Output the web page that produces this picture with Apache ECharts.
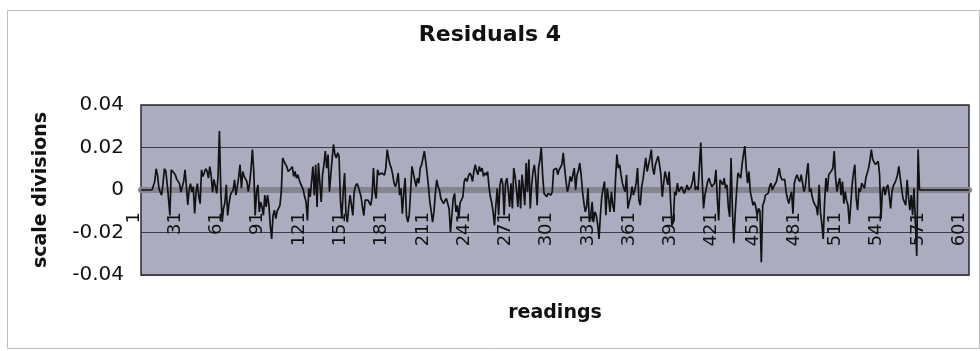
<!DOCTYPE html>
<html>
<head>
<meta charset="utf-8">
<script src="https://cdn.jsdelivr.net/npm/echarts@6/dist/echarts.min.js"></script>
<style>
html,body{margin:0;padding:0;background:#fff;}
#chart{width:980px;height:351px;}
</style>
</head>
<body>
<div id="chart"></div>
<script>
// Residual values, readings 1..603 (four consecutive stretches)
const residuals1 = [ // readings 1-152
 0,0,0,0,0,0,0,0,0,0,
 .004,.010,.007,.001,-.001,-.0024,.003,.010,.009,.003,
 -.004,-.012,.0095,.0087,.008,.007,.005,.0056,.003,-.001,
 -.0016,.004,.0095,.002,-.007,0,.003,-.001,.0016,-.011,
 -.001,.003,-.003,-.0064,.0095,.0064,.008,.010,.009,.0056,
 .011,.007,-.001,.005,.002,-.0016,.006,.0278,0,-.015,
 -.0087,-.006,.0024,-.012,-.0064,-.0024,-.001,0,.0048,-.0024,
 .0016,.006,.0119,.0008,.0087,.0064,.0056,.004,-.0008,.0032,
 .010,.019,.0087,-.012,-.0008,.0024,-.0103,-.0056,-.008,-.0119,
 -.0024,-.008,-.0024,-.007,-.0167,-.023,-.012,-.0095,-.0135,-.010,
 -.0087,-.0072,-.0008,.0151,.0135,.013,.011,.0087,.0095,.010,
 .011,.0064,.0087,.0056,.0072,.0048,.003,.0016,0,-.0032,
 -.0056,-.0143,.0008,-.0032,.004,.011,-.0024,.0119,-.008,.0127,
 .0135,-.0056,.0072,.012,.0183,.0103,.0167,-.0008,.0072,.015,
 .0215,.0167,.0151,.0175,.0159,-.005,-.0135,-.0008,.008,-.011,
 -.0151,-.008
];
const residuals2 = [ // readings 153-301
 -.0024,-.007,-.012,-.0008,.002,.003,.0016,.0008,-.0032,-.008,
 -.012,-.0048,-.0056,-.0048,-.006,-.0072,-.0032,.0103,-.0008,-.004,
 .0095,.0072,.0064,.008,.0072,.007,.0103,.019,.0151,.012,
 .0103,.0072,.0032,.0016,.004,.008,-.0024,.0008,-.0111,-.0016,
 .0056,-.012,-.0151,-.0119,-.0008,.0111,.008,.0072,.0016,.0056,
 .0032,.0103,.0119,.015,.0183,.0135,.008,.0016,-.0056,-.010,
 -.0151,-.0103,-.0016,.0048,.0016,0,-.004,-.0032,-.0064,-.005,
 -.004,-.0032,-.0087,-.0199,-.0119,-.004,-.0016,-.0103,-.0072,-.0135,
 -.006,-.0056,-.0032,.004,.0056,.004,.0064,.008,.007,.004,
 .0087,.0119,.009,.0072,.0111,.0087,.0103,.0064,.008,.007,
 .0087,.0016,-.0032,-.006,-.0103,-.0167,-.0072,.0008,-.0119,.0024,
 .0056,.003,-.0119,.0032,.0056,0,-.008,.0032,-.0087,.0103,
 .0064,0,-.008,.0048,-.0087,.0072,.001,-.0072,.0127,-.0008,
 .0143,-.0087,.002,.0087,.0119,.0056,-.0072,.0103,.014,.0199,
 .0072,-.0016,-.0024,-.0032,-.0016,-.001,-.0024,-.0008,.0095
];
const residuals3 = [ // readings 302-450
 .0087,.0103,.0072,.0095,.0087,.012,.0175,.0103,.004,-.0008,
 .0016,.0064,.004,.0032,.0103,0,.0072,.009,.0127,.0072,
 -.0008,-.006,-.0103,-.008,.0008,-.0151,-.0119,-.0056,-.0151,-.0103,
 -.0119,-.016,-.023,-.0119,-.0032,.0008,.004,-.0119,.0008,-.004,
 -.0103,-.0008,-.0072,-.0103,.005,.0167,.0103,.0119,.0072,.0032,
 .001,-.0008,.0072,-.0087,-.0056,-.0032,.0016,-.0024,0,.0032,
 .0103,-.0048,-.0072,.0016,.005,.0103,.0151,.0087,.0119,.015,
 .019,.0103,.0072,.0119,.014,.0159,.0119,.0072,-.0032,.0032,
 .0087,.006,.0024,.0087,-.005,-.0167,-.0151,-.0008,-.0024,.0032,
 -.0008,0,.0016,.001,-.0016,-.0024,.0024,0,0,.0016,
 .004,.0087,0,.0016,0,-.0008,.0223,.005,-.0087,-.0024,
 .0008,.004,.0056,.0032,.0016,.0024,.0032,.0095,-.004,-.0143,
 .0048,.004,.0024,.0056,.0008,.0024,-.008,-.0127,.0151,-.010,
 -.025,-.0111,-.0008,.008,.0072,.0056,.012,.0167,.0207,.0103,
 .0032,.0087,-.0008,-.004,-.0072,-.0056,-.008,-.0119,-.0087
];
const residuals4 = [ // readings 451-603
 -.010,-.034,-.0072,-.0056,-.0024,-.0032,-.0016,.0016,.0032,0,
 .0016,.0024,.004,.0032,.0103,.0064,.0048,.0056,.005,-.0008,
 -.004,-.0064,-.003,-.0008,-.0111,.0032,.0056,.0072,.005,.004,
 .0072,.0064,-.0008,.0016,.008,.0127,-.0008,.0008,-.0032,-.0056,
 -.007,-.008,-.0119,.0024,-.0103,-.016,-.023,-.0056,.0056,-.0008,
 .0072,.008,.009,.0103,.0183,.0056,-.0008,.003,.0056,-.0024,
 .004,-.0064,-.0008,-.005,-.0072,-.016,-.0072,.0024,.008,.0119,
 -.004,-.0095,.0008,-.0008,.0032,.002,.0008,.0056,.0064,.0103,
 .014,.019,.0143,.0151,.012,.0119,.0135,.0072,-.0135,-.0008,
 .0016,-.0024,.001,.0024,-.0024,-.0087,-.0008,.002,.0032,.0048,
 .0072,.0111,.0056,.0008,-.004,-.0056,-.0072,.0048,-.003,-.0095,
 -.0024,-.0119,.0008,-.015,-.031,.019,0,
 0,0,0,0,0,0,0,0,0,0,0,0,0,0,0,0,0,0,
 0,0,0,0,0,0,0,0,0,0,0,0,0,0,0,0,0,0
];
const residuals = residuals1.concat(residuals2, residuals3, residuals4);
const readings = residuals.map((_, i) => String(i + 1));
const xTickLabels = ['1','31','61','91','121','151','181','211','241','271','301',
  '331','361','391','421','451','481','511','541','571','601'];
const yTicks = [-0.04, -0.02, 0, 0.02, 0.04];
const titleText = 'Residuals 4';
const xName = 'readings';
const yName = 'scale divisions';

const chart = echarts.init(document.getElementById('chart'), null, {renderer: 'canvas'});
const FONT = 'DejaVu Sans';
const frame = {
  type: 'rect', id: 'frame', left: 5, top: 8, shape: {width: 972, height: 338},
  style: {fill: 'none', stroke: '#bdbdbd', lineWidth: 1}, silent: true
};
chart.setOption({
  animation: false,
  backgroundColor: '#ffffff',
  graphic: [frame],
  title: {
    text: titleText, left: 'center', top: 19,
    textStyle: {fontFamily: FONT, fontWeight: 'bold', fontSize: 22, color: '#111'}
  },
  grid: {
    left: 141, right: 11, top: 105, bottom: 76,
    outerBoundsMode: 'none', containLabel: false,
    show: true, backgroundColor: '#acacc0', borderColor: '#2a2a2a', borderWidth: 1.5
  },
  xAxis: {
    type: 'category', data: readings, boundaryGap: false,
    axisLine: {onZero: true, lineStyle: {color: '#85858f', width: 6}},
    axisTick: {show: false},
    axisLabel: {show: false},
    splitLine: {show: false}
  },
  yAxis: {
    type: 'value', min: yTicks[0], max: yTicks[yTicks.length - 1], interval: 0.02,
    name: yName, nameLocation: 'middle', nameGap: 90,
    nameTextStyle: {fontFamily: FONT, fontWeight: 'bold', fontSize: 19, color: '#111'},
    axisLine: {show: false}, axisTick: {show: false},
    axisLabel: {
      margin: 17, padding: [0, 0, 8, 0], fontFamily: FONT, fontSize: 20, color: '#111',
      formatter: v => String(Math.round(v * 100) / 100)
    },
    splitLine: {show: true, lineStyle: {color: '#3c3c4a', width: 1}}
  },
  series: [{
    type: 'line', data: residuals, symbol: 'none', smooth: false, z: 3,
    lineStyle: {color: '#121212', width: 1.7}
  }]
});

// Category tick labels (rotated, hanging below the zero line) and the x-axis title,
// positioned through the chart's own axis scales.
const y0 = chart.convertToPixel({yAxisIndex: 0}, 0);
const yBottom = chart.convertToPixel({yAxisIndex: 0}, yTicks[0]);
const xLeft = chart.convertToPixel({xAxisIndex: 0}, readings[0]);
const xRight = chart.convertToPixel({xAxisIndex: 0}, readings[readings.length - 1]);
const extra = xTickLabels.map((lab, k) => ({
  type: 'text', id: 'xl' + k,
  x: chart.convertToPixel({xAxisIndex: 0}, lab) - 7, y: y0 + 22,
  rotation: Math.PI / 2, z: 2, silent: true,
  style: {text: lab, align: 'right', verticalAlign: 'middle',
          font: '18px "DejaVu Sans"', fill: '#111'}
}));
extra.push({
  type: 'text', id: 'xname', x: (xLeft + xRight) / 2, y: yBottom + 38, silent: true,
  style: {text: xName, align: 'center', verticalAlign: 'middle',
          font: 'bold 19px "DejaVu Sans"', fill: '#111'}
});
chart.setOption({graphic: [frame].concat(extra)});
</script>
</body>
</html>
